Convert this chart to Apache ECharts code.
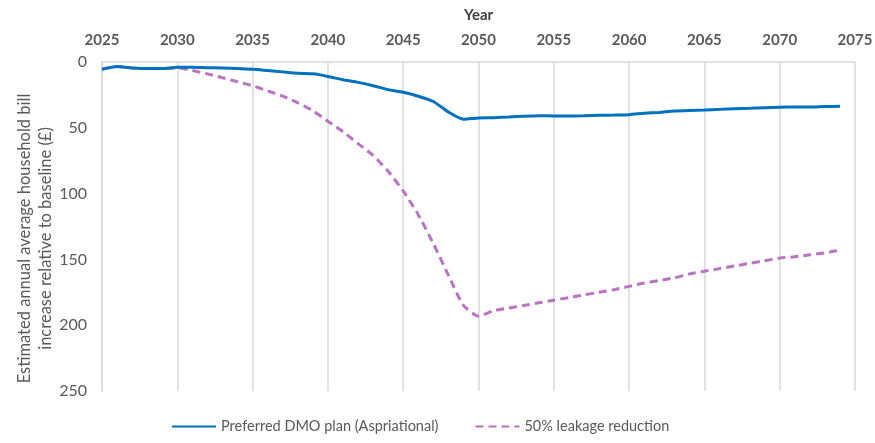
<!DOCTYPE html>
<html>
<head>
<meta charset="utf-8">
<script src="https://cdn.jsdelivr.net/npm/echarts@6/dist/echarts.min.js"></script>
<style>
  html, body { margin: 0; padding: 0; background: #fff; }
  #chart { width: 875px; height: 443px; }
</style>
</head>
<body>
<div id="chart"></div>
<script>
// years 2025..2074
const years = [
  2025, 2026, 2027, 2028, 2029, 2030, 2031, 2032, 2033, 2034,
  2035, 2036, 2037, 2038, 2039, 2040, 2041, 2042, 2043, 2044,
  2045, 2046, 2047, 2048, 2049, 2050, 2051, 2052, 2053, 2054,
  2055, 2056, 2057, 2058, 2059, 2060, 2061, 2062, 2063, 2064,
  2065, 2066, 2067, 2068, 2069, 2070, 2071, 2072, 2073, 2074
];

const preferredPlan = [
  5.5, 3.5, 4.5, 5, 5, 4, 4, 4.3, 4.5, 5,
  5.5, 6.5, 7.5, 8.5, 9, 11, 13.5, 15.5, 18, 21,
  23, 26, 30, 38, 43.5, 42.5, 42.3, 41.8, 41.2, 40.8,
  41, 41, 40.8, 40.5, 40.3, 40, 39, 38.3, 37.3, 36.8,
  36.5, 36, 35.5, 35.2, 34.7, 34.3, 34.2, 34.2, 33.8, 33.7
];

const leakage50 = [
  5.5, 3.5, 4.5, 5, 5, 4.5, 6.5, 9, 12, 15,
  18, 22, 26, 31, 37, 45, 53, 62, 71, 83,
  98, 116, 138, 162, 185, 193, 189, 187, 185, 183,
  181, 179, 177, 175, 173, 170.5, 168, 166, 164, 161,
  159, 157, 155, 153, 151, 149, 148, 146.5, 145, 143
];

const seriesNames = ['Preferred DMO plan (Aspriational)', '50% leakage reduction'];
const yTicks = [0, 50, 100, 150, 200, 250];

const pairs = (vals) => years.map((y, i) => [y, vals[i]]);

const chart = echarts.init(document.getElementById('chart'));

const font = 'Lato';

const option = {
  animation: false,
  textStyle: { fontFamily: font },
  grid: {
    left: 102,
    right: 20,
    top: 62,
    bottom: 52,
    outerBoundsMode: 'none',
    containLabel: false
  },
  legend: {
    bottom: 4,
    left: 166,
    itemWidth: 44,
    itemHeight: 10,
    itemGap: 36,
    itemStyle: { opacity: 0 },
    textStyle: { color: '#595959', fontSize: 14.5, fontFamily: font },
    data: seriesNames
  },
  xAxis: {
    type: 'value',
    position: 'top',
    min: 2025,
    max: 2075,
    interval: 5,
    name: 'Year',
    nameLocation: 'middle',
    nameGap: 39,
    nameTextStyle: { color: '#404040', fontSize: 15, fontWeight: 'bold' },
    axisLine: { show: true, lineStyle: { color: '#d9d9d9', width: 1.5 } },
    axisTick: { show: false },
    axisLabel: {
      color: '#595959',
      fontSize: 15,
      fontWeight: 'bold',
      margin: 14,
      formatter: (v) => String(v)
    },
    splitLine: { show: true, lineStyle: { color: '#d9d9d9', width: 1.5 } }
  },
  yAxis: {
    type: 'value',
    inverse: true,
    min: yTicks[0],
    max: yTicks[yTicks.length - 1],
    interval: 50,
    name: 'Estimated annual average household bill\nincrease relative to baseline (£)',
    nameLocation: 'middle',
    nameRotate: 90,
    nameGap: 46,
    nameMoveOverlap: false,
    nameTextStyle: { color: '#595959', fontSize: 16.5, lineHeight: 21, padding: [0, 24, 0, 0] },
    axisLine: { show: true, lineStyle: { color: '#d9d9d9', width: 1.5 } },
    axisTick: { show: false },
    axisLabel: { color: '#595959', fontSize: 16, margin: 15 },
    splitLine: { show: false }
  },
  series: [
    {
      name: seriesNames[0],
      type: 'line',
      data: pairs(preferredPlan),
      symbol: 'none',
      smooth: 0.2,
      lineStyle: { color: '#0070C0', width: 3 },
      itemStyle: { color: '#0070C0' },
      z: 3
    },
    {
      name: seriesNames[1],
      type: 'line',
      data: pairs(leakage50),
      symbol: 'none',
      smooth: 0.2,
      lineStyle: { color: '#BA72C2', width: 3, type: [8, 5] },
      itemStyle: { color: '#BA72C2' },
      z: 2
    }
  ]
};

chart.setOption(option);
</script>
</body>
</html>
